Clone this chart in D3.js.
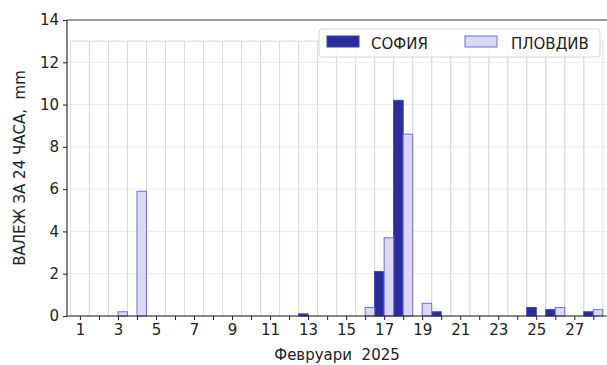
<!DOCTYPE html>
<html>
<head>
<meta charset="utf-8">
<script src="https://cdn.jsdelivr.net/npm/d3@7"></script>
<style>
body { margin: 0; background: #fff; }
text { font-family: "DejaVu Sans", sans-serif; }
</style>
</head>
<body>
<svg id="chart" width="607" height="365"></svg>
<script>
var days = d3.range(1, 29);
var sofia = [0, 0, 0, 0, 0, 0, 0, 0, 0, 0, 0, 0, 0.1, 0, 0, 0, 2.1, 10.2, 0, 0.2, 0, 0, 0, 0, 0.4, 0.3, 0, 0.2];
var plovdiv = [0, 0, 0.2, 5.9, 0, 0, 0, 0, 0, 0, 0, 0, 0, 0, 0, 0.4, 3.7, 8.6, 0.6, 0, 0, 0, 0, 0, 0, 0.4, 0, 0.3];
var yTicks = [0, 2, 4, 6, 8, 10, 12, 14];
var xTickLabels = [1, 3, 5, 7, 9, 11, 13, 15, 17, 19, 21, 23, 25, 27];
var gridTop = 13;

var svg = d3.select('#chart'),
	margin = {top: 20, right: 0, bottom: 49, left: 67},
	width = +svg.attr("width") - margin.left - margin.right,
	height = +svg.attr("height") - margin.top - margin.bottom;

var chart = svg.append("g")
	.attr("transform", "translate(" + margin.left + "," + margin.top + ")");

var x = d3.scaleLinear().domain([0.32, 28.72]).range([0, width]);
var y = d3.scaleLinear().domain([0, 14]).range([height, 0]);
var dayW = x(1) - x(0);

// horizontal grid
chart.selectAll("line.hgrid")
	.data(yTicks.filter(function(d) { return d > 0 && d < 14; }))
	.enter().append("line")
	.attr("class", "hgrid")
	.attr("x1", 0).attr("x2", width)
	.attr("y1", function(d) { return y(d); })
	.attr("y2", function(d) { return y(d); })
	.attr("stroke", "#ececec").attr("stroke-width", 1);

// background day boxes up to 13
chart.selectAll("rect.bg")
	.data(days)
	.enter().append("rect")
	.attr("class", "bg")
	.attr("x", function(d) { return x(d - 0.5); })
	.attr("y", y(gridTop))
	.attr("width", dayW)
	.attr("height", y(0) - y(gridTop))
	.attr("fill", "none")
	.attr("stroke", "#dcdcdc").attr("stroke-width", 1);

// bars
chart.selectAll("rect.sofia")
	.data(days)
	.enter().append("rect")
	.attr("class", "sofia")
	.attr("x", function(d) { return x(d - 0.5); })
	.attr("y", function(d, i) { return y(sofia[i]); })
	.attr("width", dayW / 2)
	.attr("height", function(d, i) { return y(0) - y(sofia[i]); })
	.attr("fill", "#2b2c9c")
	.attr("stroke", "#3b3bc8").attr("stroke-width", 1);

chart.selectAll("rect.plovdiv")
	.data(days)
	.enter().append("rect")
	.attr("class", "plovdiv")
	.attr("x", function(d) { return x(d); })
	.attr("y", function(d, i) { return y(plovdiv[i]); })
	.attr("width", dayW / 2)
	.attr("height", function(d, i) { return y(0) - y(plovdiv[i]); })
	.attr("fill", "#d9d9f7")
	.attr("stroke", "#6f6fe0").attr("stroke-width", 1);

// axes
var xAxis = chart.append("g")
	.attr("transform", "translate(0," + height + ")")
	.call(d3.axisBottom(x).tickValues(days).tickSize(4).tickPadding(4)
		.tickFormat(function(d) { return xTickLabels.indexOf(d) >= 0 ? d : ""; }));
var yAxis = chart.append("g")
	.call(d3.axisLeft(y).tickValues(yTicks).tickSize(4).tickPadding(4));

[xAxis, yAxis].forEach(function(a) {
	a.select(".domain").remove();
	a.selectAll("line").attr("stroke", "#222");
	a.selectAll("text").attr("font-size", 15).attr("fill", "#222")
		.style("font-family", "DejaVu Sans");
});

chart.append("line").attr("x1", 0).attr("x2", width).attr("y1", height).attr("y2", height)
	.attr("stroke", "#222").attr("stroke-width", 1.2);
chart.append("line").attr("x1", 0).attr("x2", width).attr("y1", 0).attr("y2", 0)
	.attr("stroke", "#333").attr("stroke-width", 1.2);
chart.append("line").attr("x1", 0).attr("x2", 0).attr("y1", 0).attr("y2", height)
	.attr("stroke", "#333").attr("stroke-width", 1.2);

// labels
svg.append("text")
	.attr("transform", "translate(25," + (margin.top + height / 2) + ") rotate(-90)")
	.attr("text-anchor", "middle")
	.attr("font-size", 15).attr("fill", "#222")
	.style("white-space", "pre")
	.text("ВАЛЕЖ ЗА 24 ЧАСА,  mm");
svg.append("text")
	.attr("x", margin.left + width / 2).attr("y", 360)
	.attr("text-anchor", "middle")
	.attr("font-size", 15).attr("fill", "#222")
	.style("white-space", "pre")
	.text("Февруари  2025");

// legend
var legend = svg.append("g").attr("transform", "translate(319,29)");
legend.append("rect")
	.attr("width", 281).attr("height", 28).attr("rx", 3)
	.attr("fill", "#fff").attr("fill-opacity", 0.85)
	.attr("stroke", "#d5d5d5");
var legItems = [
	{name: "СОФИЯ", fill: "#2b2c9c", stroke: "#3b3bc8", x: 8, tx: 52},
	{name: "ПЛОВДИВ", fill: "#d9d9f7", stroke: "#6f6fe0", x: 146, tx: 192}
];
legItems.forEach(function(d) {
	legend.append("rect").attr("x", d.x).attr("y", 7).attr("width", 32).attr("height", 11)
		.attr("fill", d.fill).attr("stroke", d.stroke);
	legend.append("text").attr("x", d.tx).attr("y", 19.5)
		.attr("font-size", 15).attr("fill", "#222").text(d.name);
});
</script>
</body>
</html>
